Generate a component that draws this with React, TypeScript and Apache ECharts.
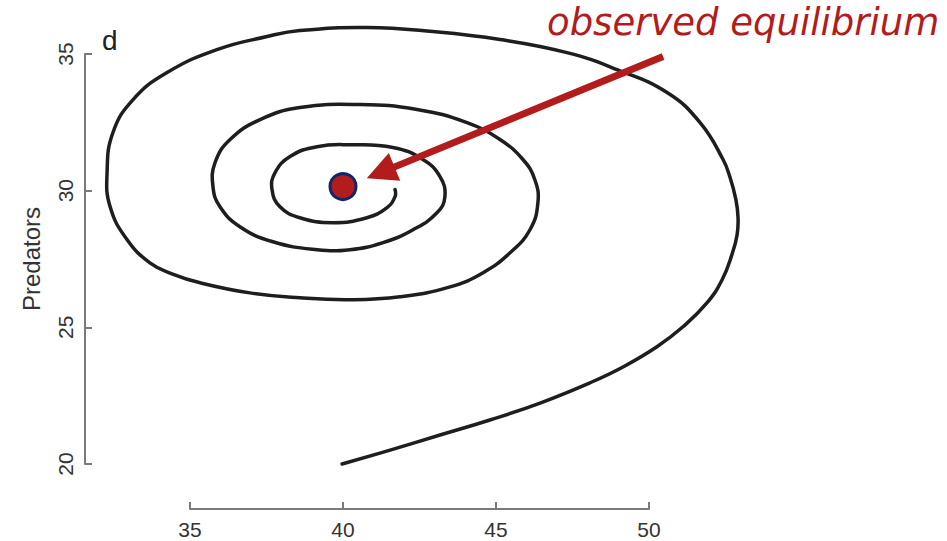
import React, { useEffect, useRef } from "react";
import * as echarts from "echarts";

// Predator–prey phase trajectory: prey on x, predators on y
const prey = [
  39.97, 41.54, 43.17, 44.8, 46.44, 48.07, 49.15, 50.26, 51.11, 51.9, 52.39,
  52.71, 52.88, 52.91, 52.84, 52.65, 52.42, 51.67, 50.59, 48.95, 47.32, 45.13,
  42.94, 40.78, 38.59, 37.52, 35.88, 34.25, 33.14, 32.48, 32.29, 32.39, 32.94,
  33.69, 34.41, 35.33, 36.96, 38.59, 40.23, 41.86, 43.5, 44.58, 45.46, 46.11,
  46.37, 46.27, 45.88, 45.13, 44.05, 42.42, 40.56, 38.59, 37.29, 36.31, 35.82,
  35.75, 35.98, 36.63, 37.71, 39.15, 40.23, 41.31, 42.29, 43.07, 43.33, 43.17,
  42.61, 41.63, 40.23, 39.15, 38.27, 37.78, 37.68, 37.94, 38.59, 39.67, 40.78,
  41.44, 41.7, 41.7,
];
const predators = [
  20.0, 20.51, 21.06, 21.61, 22.23, 22.97, 23.55, 24.29, 25.02, 25.9, 26.74,
  27.66, 28.39, 29.01, 29.67, 30.48, 31.14, 32.49, 33.59, 34.43, 35.05, 35.53,
  35.82, 35.97, 35.86, 35.64, 35.16, 34.32, 33.33, 32.12, 30.66, 29.41, 28.21,
  27.36, 26.96, 26.63, 26.26, 26.08, 26.01, 26.12, 26.48, 27.0, 27.73, 28.57,
  29.56, 30.4, 31.14, 31.87, 32.49, 32.97, 33.15, 33.04, 32.6, 31.87, 31.03,
  30.15, 29.41, 28.68, 28.13, 27.84, 27.84, 28.1, 28.57, 29.19, 29.78, 30.51,
  31.14, 31.58, 31.68, 31.61, 31.25, 30.66, 30.04, 29.41, 29.01, 28.83, 29.01,
  29.38, 29.78, 30.04,
];

const equilibrium = [40, 30.15];
// Annotation arrow: tail and arrowhead centre in data units
const arrowTail = [50.46, 34.91];
const arrowHead = [41.23, 30.66];

const xTicks = { min: 35, max: 50, interval: 5 };
const yTicks = { min: 20, max: 35, interval: 5 };

const axisGray = "#7a7a7a";
const labelGray = "#333333";
const red = "#b21c1c";

export default function App() {
  const ref = useRef<HTMLDivElement>(null);

  useEffect(() => {
    if (!ref.current) return;
    const chart = echarts.init(ref.current, undefined, { renderer: "svg" });
    const trajectory = prey.map((x, i) => [x, predators[i]]);

    chart.setOption({
      animation: false,
      backgroundColor: "#ffffff",
      grid: { left: 190, right: 298, top: 54, bottom: 77, containLabel: false },
      xAxis: {
        type: "value",
        ...xTicks,
        offset: 45,
        splitLine: { show: false },
        axisLine: { show: true, lineStyle: { color: axisGray, width: 2 } },
        axisTick: { show: true, inside: true, length: 7, lineStyle: { color: axisGray, width: 2 } },
        axisLabel: {
          fontSize: 21,
          color: labelGray,
          margin: 10,
          fontFamily: "Liberation Sans, Arial, sans-serif",
        },
      },
      yAxis: {
        type: "value",
        ...yTicks,
        offset: 105,
        name: "Predators",
        nameLocation: "middle",
        nameRotate: 90,
        nameGap: 42,
        nameTextStyle: {
          fontSize: 24,
          color: labelGray,
          fontFamily: "Liberation Sans, Arial, sans-serif",
        },
        splitLine: { show: false },
        axisLine: { show: true, lineStyle: { color: axisGray, width: 2 } },
        axisTick: { show: true, inside: true, length: 7, lineStyle: { color: axisGray, width: 2 } },
        axisLabel: {
          rotate: 90,
          fontSize: 21,
          color: labelGray,
          margin: 9,
          fontFamily: "Liberation Sans, Arial, sans-serif",
        },
      },
      series: [
        {
          // whole trajectory as one smoothed polyline, allowed to run past the axis range
          type: "custom",
          clip: false,
          data: trajectory,
          renderItem: (params: any, api: any) => {
            if (params.dataIndex !== 0) return null;
            const points = trajectory.map((p) => api.coord(p));
            return {
              type: "polyline",
              shape: { points, smooth: 0.45 },
              style: {
                stroke: "#1e1e1e",
                lineWidth: 3.5,
                fill: null,
                lineJoin: "round",
                lineCap: "round",
              },
            };
          },
          z: 2,
        },
        {
          type: "lines",
          coordinateSystem: "cartesian2d",
          clip: false,
          symbol: ["none", "triangle"],
          symbolSize: [0, 30],
          lineStyle: { color: red, width: 7, opacity: 1, curveness: 0 },
          data: [{ coords: [arrowTail, arrowHead] }],
          z: 3,
        },
        {
          type: "scatter",
          data: [equilibrium],
          symbolSize: 26,
          itemStyle: { color: red, borderColor: "#0f2668", borderWidth: 3, opacity: 1 },
          z: 4,
        },
      ],
      graphic: [
        {
          type: "text",
          left: 102,
          top: 26,
          style: {
            text: "d",
            font: '28px "Liberation Sans", Arial, sans-serif',
            fill: "#222222",
          },
        },
        {
          type: "text",
          left: 547,
          top: 4,
          style: {
            text: "observed equilibrium",
            font: 'italic 37px "DejaVu Sans", Verdana, sans-serif',
            fill: red,
          },
        },
      ],
    });

    return () => chart.dispose();
  }, []);

  return (
    <div
      ref={ref}
      style={{ position: "fixed", left: 0, top: 0, width: 947, height: 541 }}
    />
  );
}
